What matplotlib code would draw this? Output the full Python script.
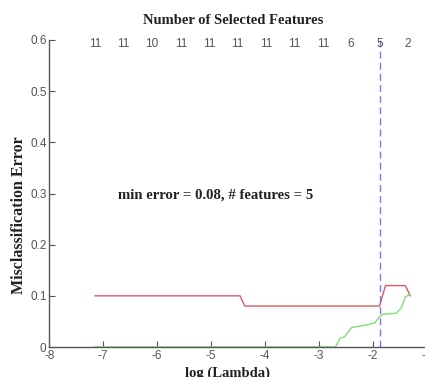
import matplotlib.pyplot as plt

plt.rcParams['axes.unicode_minus'] = False

# cross-validated error curve (red) and training error curve (green)
red_x = [-7.15, -4.46, -4.37, -1.87, -1.76, -1.39, -1.30]
red_y = [0.10, 0.10, 0.08, 0.08, 0.12, 0.12, 0.10]

green_x = [-7.15, -2.69, -2.60, -2.52, -2.39, -2.12, -1.96, -1.87, -1.81,
           -1.56, -1.47, -1.39, -1.31]
green_y = [0.0, 0.0, 0.017, 0.02, 0.038, 0.043, 0.047, 0.059, 0.064,
           0.066, 0.076, 0.098, 0.103]

# number of selected features at each lambda (top labels)
df_x = [-7.152, -6.633, -6.095, -5.557, -5.037, -4.518, -3.980, -3.460,
        -2.922, -2.403, -1.865, -1.345, -0.826]
df_labels = ['11', '11', '10', '11', '11', '11', '11', '11', '11', '6',
             '5', '2', '1']

best_x = -1.865

fig = plt.figure(figsize=(4.25, 3.77), dpi=100)
ax = fig.add_axes([49.3 / 425, 30 / 377, 431 / 425, 307 / 377])

ax.plot(red_x, red_y, color=(0.86, 0.35, 0.40), lw=1)
ax.plot(green_x, green_y, color=(0.50, 0.87, 0.47), lw=1)
ax.axvline(best_x, color=(0.50, 0.47, 0.90), lw=1, ls=(0, (5, 3)))

ax.set_xlim(-8, 0)
ax.set_ylim(0, 0.6)
ax.set_xticks(range(-8, 1))
ax.set_yticks([0, 0.1, 0.2, 0.3, 0.4, 0.5, 0.6])
ax.set_yticklabels(['0', '0.1', '0.2', '0.3', '0.4', '0.5', '0.6'])

for s in ['top', 'right']:
    ax.spines[s].set_visible(False)
for s in ['left', 'bottom']:
    ax.spines[s].set_color('#555555')
    ax.spines[s].set_linewidth(1)

ax.tick_params(direction='in', length=4, color='#555555', labelcolor='#555555',
               labelsize=8.5, pad=2)
for lab in ax.get_xticklabels() + ax.get_yticklabels():
    lab.set_family('Liberation Sans')

for x, t in zip(df_x, df_labels):
    ax.text(x, 0.593, t, ha='center', va='center', fontsize=8.5,
            color='#555555', family='Liberation Sans', clip_on=False)

serif = dict(family='Liberation Serif', fontweight='bold', color='#222222')
ax.text(-6.72, 0.297, 'min error = 0.08, # features = 5', ha='left',
        va='center', fontsize=10.6, **serif)

ax.set_xlabel('log (Lambda)', fontsize=10.5, va='center', **serif)
ax.xaxis.set_label_coords(0.413, -0.085)
ax.set_ylabel('Misclassification Error', fontsize=11.5, va='center', **serif)
ax.yaxis.set_label_coords(-0.070, 0.43)
ax.set_title('Number of Selected Features', fontsize=10.5, va='center',
             x=0.426, y=1.037, **serif)

fig.savefig('out.png', dpi=100)
